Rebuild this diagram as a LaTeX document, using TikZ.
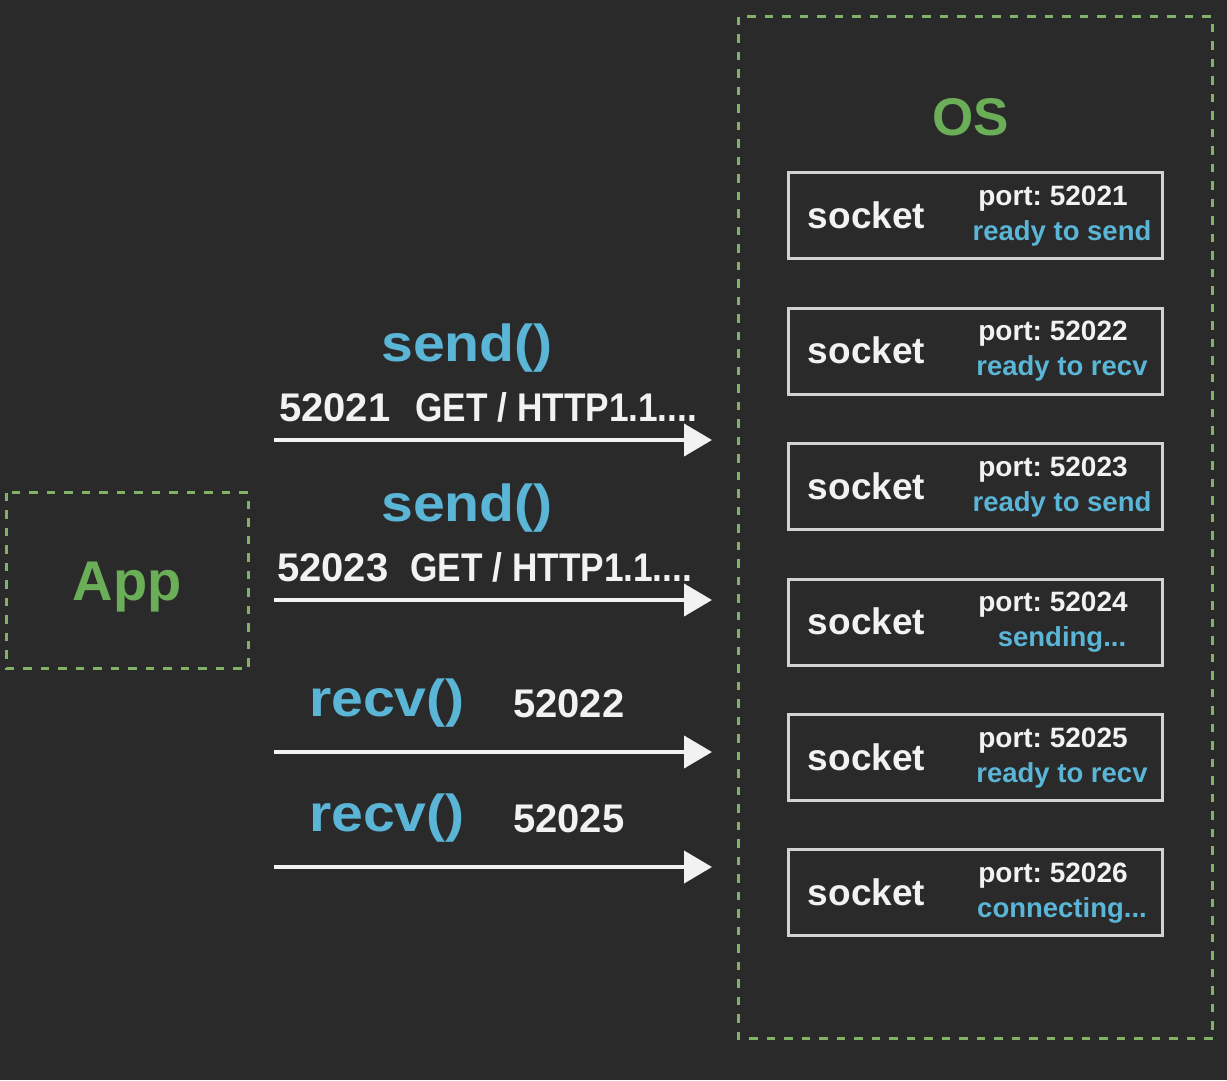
\documentclass[tikz,border=0pt]{standalone}
\usepackage{fontspec}
\setmainfont{Liberation Sans}
\usepackage{tikz}
\usetikzlibrary{arrows.meta}
\frenchspacing

\definecolor{bgdark}{HTML}{2A2A2A}
\definecolor{osgreen}{HTML}{6AAE58}
\definecolor{dashgreen}{HTML}{82B26A}
\definecolor{callblue}{HTML}{5AB5D6}
\definecolor{boxgray}{HTML}{D2D2D2}
\definecolor{txtwhite}{HTML}{F2F2F2}

\tikzset{
	dashbox/.style={draw=dashgreen, line width=3pt, dash pattern=on 8.5pt off 9pt},
	sockbox/.style={draw=boxgray, line width=3pt, minimum width=374pt, minimum height=86pt, inner sep=0pt},
	socklbl/.style={txtwhite, inner sep=0pt, font=\bfseries\fontsize{37}{40}\selectfont, anchor=base},
	portlbl/.style={txtwhite, inner sep=0pt, font=\bfseries\fontsize{28}{30}\selectfont, anchor=base},
	statelbl/.style={callblue, inner sep=0pt, font=\bfseries\fontsize{27.5}{30}\selectfont, anchor=base},
	calllbl/.style={callblue, inner sep=0pt, font=\bfseries\fontsize{52}{58}\selectfont, anchor=base},
	datalbl/.style={txtwhite, inner sep=0pt, font=\bfseries\fontsize{40}{44}\selectfont, anchor=base west},
	flow/.style={txtwhite, line width=4pt, -{Triangle[length=28pt,width=32pt]}}
}
\newcommand{\widecall}[1]{\scalebox{1.1}[1]{#1}}
\newcommand{\narrowdata}[1]{\scalebox{0.88}[1]{#1}}

\begin{document}
\begin{tikzpicture}[x=1pt,y=-1pt]
	\fill[bgdark] (0,0) rectangle (1227,1080);
	\useasboundingbox (0,0) rectangle (1227,1080);
	% App and OS
	\draw[dashbox] (6.5,492.5) rectangle (248.5,668.5);
	\node[osgreen, font=\bfseries\fontsize{56}{60}\selectfont, anchor=base] (app) at (127,600) {App};
	\draw[dashbox] (738.5,16.5) rectangle (1212.5,1038.5);
	\node[osgreen, font=\bfseries\fontsize{53}{60}\selectfont, anchor=base] (os) at (971,135) {OS};
	% sockets
	\foreach \i/\yc/\port/\state in {1/215.5/52021/{ready to send}, 2/351/52022/{ready to recv}, 3/486.5/52023/{ready to send}, 4/622/52024/{sending...}, 5/757.5/52025/{ready to recv}, 6/892.5/52026/{connecting...}}{
		\node[sockbox] (sock\i) at (975.5,\yc) {};
		\node[socklbl] (sockname\i) at (866.5,\yc+12.5) {socket};
		\node[portlbl] (port\i) at (1053,\yc-10.5) {port: \port};
		\node[statelbl] (state\i) at (1062,\yc+24.5) {\state};
	}
	% calls
	\foreach \j/\ya in {1/440, 2/600, 3/752, 4/867}{
		\coordinate (from\j) at (274,\ya);
		\coordinate (to\j) at (712,\ya);
		\draw[flow] (from\j) -- (to\j);
	}
	\node[calllbl] (send1) at (467,361) {\widecall{send()}};
	\node[datalbl] (data1) at (279,421) {52021\hspace{25pt}\narrowdata{GET / HTTP1.1....}};
	\node[calllbl] (send2) at (467,521) {\widecall{send()}};
	\node[datalbl] (data2) at (277,581) {52023\hspace{22pt}\narrowdata{GET / HTTP1.1....}};
	\node[calllbl] (recv1) at (387,716) {\widecall{recv()}};
	\node[datalbl] (port22) at (513,717) {52022};
	\node[calllbl] (recv2) at (387,831) {\widecall{recv()}};
	\node[datalbl] (port25) at (513,832) {52025};
\end{tikzpicture}
\end{document}
